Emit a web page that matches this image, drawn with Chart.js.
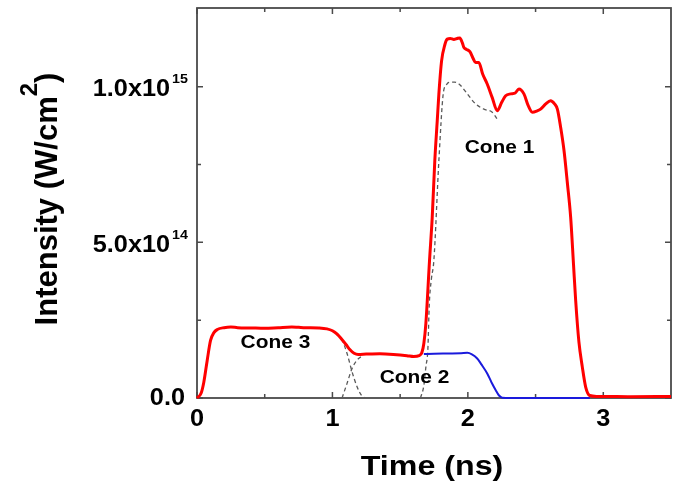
<!DOCTYPE html>
<html lang="en">
<head>
  <meta charset="UTF-8">
  <title>Intensity vs Time</title>
  <script src="https://cdn.jsdelivr.net/npm/chart.js"></script>
  <style>
    html, body { margin: 0; padding: 0; background: #fff; }
    #wrap { width: 675px; height: 487px; }
  </style>
</head>
<body>
  <div id="wrap"><canvas id="laserChart" width="675" height="487"></canvas></div>

  <script>
    // intensity in units of 1e14 W/cm^2, time in ns
    const totalTime = [0, 0.03, 0.05, 0.075, 0.1, 0.125, 0.15, 0.2, 0.25, 0.3, 0.4, 0.5, 0.6, 0.7, 0.75, 0.8, 0.9, 0.96, 1.0, 1.035, 1.07, 1.1, 1.13, 1.16, 1.19, 1.25, 1.35, 1.45, 1.55, 1.6, 1.64, 1.66, 1.675, 1.69, 1.717, 1.737, 1.756, 1.774, 1.786, 1.806, 1.83, 1.848, 1.87, 1.897, 1.92, 1.941, 1.96, 1.971, 1.99, 2.015, 2.04, 2.057, 2.081, 2.11, 2.143, 2.18, 2.217, 2.25, 2.279, 2.316, 2.35, 2.377, 2.414, 2.445, 2.476, 2.51, 2.537, 2.575, 2.611, 2.64, 2.661, 2.685, 2.71, 2.735, 2.759, 2.78, 2.796, 2.82, 2.845, 2.87, 2.9, 2.95, 3.0, 3.2, 3.5];
    const totalIntensity = [0, 0.15, 0.5, 1.2, 1.85, 2.1, 2.2, 2.26, 2.28, 2.26, 2.25, 2.24, 2.26, 2.28, 2.27, 2.26, 2.25, 2.22, 2.16, 2.05, 1.88, 1.72, 1.55, 1.44, 1.40, 1.41, 1.42, 1.40, 1.36, 1.33, 1.36, 1.45, 1.75, 2.4, 4.42, 5.81, 7.63, 8.91, 9.77, 10.83, 11.35, 11.53, 11.55, 11.52, 11.55, 11.57, 11.4, 11.26, 11.2, 11.13, 10.9, 10.78, 10.78, 10.4, 10.09, 9.65, 9.23, 9.5, 9.71, 9.77, 9.8, 9.93, 9.77, 9.4, 9.18, 9.22, 9.28, 9.45, 9.55, 9.45, 9.28, 8.7, 7.95, 6.9, 5.81, 4.3, 3.14, 1.8, 1.0, 0.35, 0.08, 0.05, 0.05, 0.04, 0.05];

    const cone2Time = [1.675, 1.75, 1.85, 1.95, 1.996, 2.03, 2.069, 2.1, 2.143, 2.175, 2.205, 2.23, 2.254, 2.4, 2.6, 2.9];
    const cone2Intensity = [1.41, 1.42, 1.43, 1.44, 1.45, 1.4, 1.27, 1.08, 0.79, 0.5, 0.26, 0.08, 0.01, 0, 0, 0];

    const cone3FallTime = [1.03, 1.071, 1.108, 1.145, 1.182, 1.215, 1.24];
    const cone3FallIntensity = [2.05, 1.86, 1.43, 0.84, 0.36, 0.08, 0];

    const cone2RiseTime = [1.071, 1.108, 1.145, 1.182, 1.22];
    const cone2RiseIntensity = [0, 0.47, 0.95, 1.22, 1.35];

    const cone1Time = [1.65, 1.675, 1.69, 1.705, 1.715, 1.73, 1.749, 1.786, 1.818, 1.84, 1.86, 1.9, 1.934, 1.959, 1.996, 2.057, 2.118, 2.18, 2.217];
    const cone1Intensity = [0, 0.4, 1.0, 1.6, 3.0, 3.8, 4.42, 7.63, 9.77, 10.05, 10.14, 10.15, 10.09, 9.98, 9.77, 9.45, 9.28, 9.18, 8.96];

    const xTicks = [0, 1, 2, 3];
    const xMinorTicks = [0.5, 1.5, 2.5];
    const yTicks = [0, 5, 10];
    const yMinorTicks = [2.5, 7.5];
    const yTickLabels = [['0.0', ''], ['5.0x10', '14'], ['1.0x10', '15']];

    const coneLabels = ['Cone 3', 'Cone 2', 'Cone 1'];
    const coneLabelX = [0.579, 1.606, 2.234];
    const coneLabelY = [1.79, 0.64, 8.04];

    function pts(xs, ys) {
      return xs.map((x, i) => ({ x: x, y: ys[i] }));
    }

    const FONT = '"Liberation Sans", Arial, sans-serif';

    function stretchText(ctx, s, x, y, size, align, stretch) {
      ctx.save();
      ctx.font = 'bold ' + size + 'px ' + FONT;
      ctx.textBaseline = 'middle';
      const w = ctx.measureText(s).width * stretch;
      let left = x;
      if (align === 'center') left = x - w / 2;
      if (align === 'right') left = x - w;
      ctx.translate(left, y);
      ctx.scale(stretch, 1);
      ctx.textAlign = 'left';
      ctx.fillText(s, 0, 0);
      ctx.restore();
      return w;
    }

    const framePlugin = {
      id: 'frame',
      beforeDatasetsDraw(chart) {
        const { ctx, chartArea: a, scales } = chart;
        ctx.save();
        ctx.strokeStyle = '#4a4a4a';
        ctx.lineWidth = 1.8;
        ctx.strokeRect(a.left, a.top, a.right - a.left, a.bottom - a.top);
        ctx.lineWidth = 1.5;
        ctx.beginPath();
        xTicks.concat(xMinorTicks).forEach(v => {
          const len = xTicks.includes(v) ? 6 : 4;
          const px = scales.x.getPixelForValue(v);
          ctx.moveTo(px, a.bottom); ctx.lineTo(px, a.bottom - len);
          ctx.moveTo(px, a.top); ctx.lineTo(px, a.top + len);
        });
        yTicks.concat(yMinorTicks).forEach(v => {
          const len = yTicks.includes(v) ? 6 : 4;
          const py = scales.y.getPixelForValue(v);
          ctx.moveTo(a.left, py); ctx.lineTo(a.left + len, py);
          ctx.moveTo(a.right, py); ctx.lineTo(a.right - len, py);
        });
        ctx.stroke();
        ctx.restore();
      },
      afterDraw(chart) {
        const { ctx, chartArea: a, scales } = chart;
        ctx.save();
        ctx.fillStyle = '#000';

        // x tick labels
        xTicks.forEach(v => {
          stretchText(ctx, String(v), scales.x.getPixelForValue(v), a.bottom + 22, 23, 'center', 1.1);
        });

        // y tick labels with exponent
        yTicks.forEach((v, i) => {
          const py = scales.y.getPixelForValue(v);
          const [base, exp] = yTickLabels[i];
          if (exp) {
            const ew = stretchText(ctx, exp, a.left - 9, py - 7, 13, 'right', 1.1);
            stretchText(ctx, base, a.left - 11 - ew, py + 3, 23, 'right', 1.1);
          } else {
            stretchText(ctx, base, a.left - 12, py + 1, 23, 'right', 1.1);
          }
        });

        // x title
        stretchText(ctx, 'Time (ns)', 432, 467, 28, 'center', 1.15);

        // y title, rotated with superscript 2
        ctx.save();
        ctx.font = 'bold 31px ' + FONT;
        const p1 = 'Intensity (W/cm', p3 = ')';
        const w1 = ctx.measureText(p1).width;
        const w3 = ctx.measureText(p3).width;
        ctx.font = 'bold 24px ' + FONT;
        const w2 = ctx.measureText('2').width;
        const total = w1 + w2 + w3;
        ctx.translate(57, 199);
        ctx.rotate(-Math.PI / 2);
        ctx.textBaseline = 'alphabetic';
        ctx.textAlign = 'left';
        let x0 = -total / 2;
        ctx.font = 'bold 31px ' + FONT;
        ctx.fillText(p1, x0, 0);
        ctx.font = 'bold 24px ' + FONT;
        ctx.fillText('2', x0 + w1, -20);
        ctx.font = 'bold 31px ' + FONT;
        ctx.fillText(p3, x0 + w1 + w2, 0);
        ctx.restore();

        // cone annotations
        coneLabels.forEach((s, i) => {
          stretchText(ctx, s, scales.x.getPixelForValue(coneLabelX[i]),
            scales.y.getPixelForValue(coneLabelY[i]), 19, 'center', 1.1);
        });
        ctx.restore();
      }
    };

    const dashed = {
      borderColor: '#5a5a5a',
      borderWidth: 1.3,
      borderDash: [4, 3],
      pointRadius: 0,
      cubicInterpolationMode: 'monotone',
      clip: false
    };

    new Chart(document.getElementById('laserChart'), {
      type: 'line',
      data: {
        datasets: [
          {
            label: 'Total',
            data: pts(totalTime, totalIntensity),
            borderColor: '#ff0000',
            borderWidth: 3,
            pointRadius: 0,
            cubicInterpolationMode: 'monotone',
            clip: false
          },
          {
            label: 'Cone 2',
            data: pts(cone2Time, cone2Intensity),
            borderColor: '#1a1adc',
            borderWidth: 2,
            pointRadius: 0,
            cubicInterpolationMode: 'monotone',
            clip: false
          },
          Object.assign({ label: 'Cone 3 fall', data: pts(cone3FallTime, cone3FallIntensity) }, dashed),
          Object.assign({ label: 'Cone 2 rise', data: pts(cone2RiseTime, cone2RiseIntensity) }, dashed),
          Object.assign({ label: 'Cone 1', data: pts(cone1Time, cone1Intensity) }, dashed)
        ]
      },
      options: {
        responsive: false,
        animation: false,
        layout: { padding: { left: 197, right: 4, top: 8, bottom: 89 } },
        plugins: { legend: { display: false }, tooltip: { enabled: false } },
        scales: {
          x: { type: 'linear', min: 0, max: 3.5, display: false },
          y: { type: 'linear', min: 0, max: 12.53, display: false }
        }
      },
      plugins: [framePlugin]
    });
  </script>
</body>
</html>
